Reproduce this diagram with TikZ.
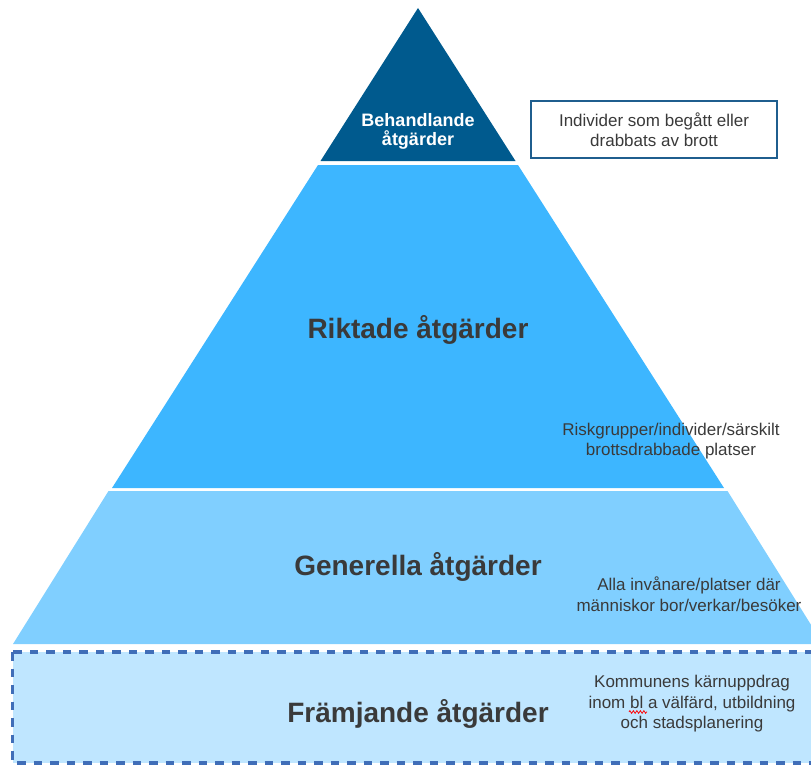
\documentclass[tikz,border=0pt]{standalone}
\usepackage{fontspec}
\setmainfont{Liberation Sans}
\usetikzlibrary{decorations.pathmorphing}
\definecolor{dkblue}{HTML}{005A8E}
\definecolor{midblue}{HTML}{3DB6FF}
\definecolor{ltblue}{HTML}{80CFFF}
\definecolor{paleblue}{HTML}{BFE6FF}
\definecolor{dashblue}{HTML}{406EB8}
\definecolor{boxblue}{HTML}{1F5E8E}
\definecolor{txtgray}{HTML}{3A3A3A}
\begin{document}
\begin{tikzpicture}[x=1pt,y=-1pt,
  bigtxt/.style={font=\fontsize{28}{30}\selectfont\bfseries, text=txtgray, inner sep=0pt},
  toptxt/.style={font=\fontsize{18}{19}\selectfont\bfseries, text=white, align=center, inner sep=0pt},
  smalltxt/.style={font=\fontsize{17}{20.5}\selectfont, text=txtgray, align=center, inner sep=0pt},
  infobox/.style={draw=boxblue, line width=2.8pt, fill=white, minimum width=246pt, minimum height=57pt, inner sep=0pt},
  dashbox/.style={draw=dashblue, line width=3.2pt, dash pattern=on 8.5pt off 8pt, fill=paleblue}]
\useasboundingbox (0,0) rectangle (811,765);
\begin{scope}
\clip (0,0) rectangle (811,765);
% layers of the pyramid
\fill[dkblue] (418,8) -- (515.5,161) -- (320.5,161) -- cycle;
\fill[midblue] (318,165) -- (518,165) -- (724,488) -- (112,488) -- cycle;
\fill[ltblue] (108.5,491) -- (727.5,491) -- (823,644) -- (13,644) -- cycle;
\path[dashbox] (12.5,652) rectangle (830,763);
\end{scope}
% labels
\node[toptxt] (beh) at (418,131) {Behandlande\\åtgärder};
\node[infobox] (info) at (654,129.5) {};
\node[smalltxt] (infotxt) at (info.center) {Individer som begått eller\\drabbats av brott};
\node[bigtxt, anchor=base] (rik) at (418,338) {Riktade åtgärder};
\node[smalltxt] (riktxt) at (671,441) {Riskgrupper/individer/särskilt\\brottsdrabbade platser};
\node[bigtxt, anchor=base] (gen) at (418,575) {Generella åtgärder};
\node[smalltxt] (gentxt) at (689,594) {Alla invånare/platser där\\människor bor/verkar/besöker};
\node[bigtxt, anchor=base] (fra) at (418,722) {Främjande åtgärder};
\node[smalltxt] (fratxt) at (692,704) {Kommunens kärnuppdrag\\inom bl a välfärd, utbildning\\och stadsplanering};
\coordinate (sq1) at (629,712);
\coordinate (sq2) at (647,712);
\draw[red, line width=0.8pt, decorate, decoration={zigzag, amplitude=1.3pt, segment length=3.5pt}] (sq1) -- (sq2);
\end{tikzpicture}
\end{document}
